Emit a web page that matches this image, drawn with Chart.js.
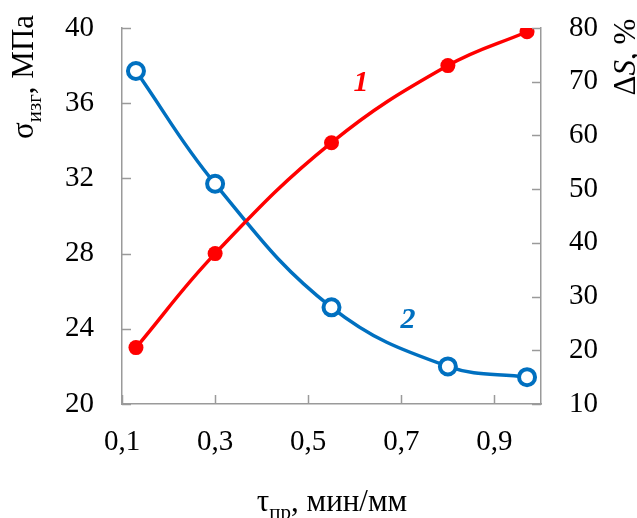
<!DOCTYPE html>
<html><head><meta charset="utf-8">
<script src="https://cdn.jsdelivr.net/npm/chart.js@4"></script>
<style>html,body{margin:0;padding:0;background:#fff}#wrap{width:637px;height:518px}</style>
</head><body><div id="wrap"><canvas id="c" width="637" height="518"></canvas></div>
<script>
const xValues = [0.13, 0.30, 0.55, 0.80, 0.97];
const sigmaValues = [23.0, 28.0, 33.9, 38.0, 39.8];
const deltaSValues = [72, 51, 28, 17, 15];
const xTicks = [0.1, 0.3, 0.5, 0.7, 0.9];
const yLeftTicks = [20, 24, 28, 32, 36, 40];
const yRightTicks = [10, 20, 30, 40, 50, 60, 70, 80];

const SERIF = '"Liberation Serif", "Times New Roman", serif';
const AXIS = '#9a9a9a';
const RED = '#ff0000', BLUE = '#0070c0';
const fmt = v => String(v).replace('.', ',');

function richText(ctx, parts, x, y, align) {
  let w = 0;
  parts.forEach(p => { ctx.font = p.font; w += ctx.measureText(p.t).width; });
  let cx = align === 'center' ? x - w / 2 : x;
  parts.forEach(p => {
    ctx.font = p.font;
    ctx.fillText(p.t, cx, y + (p.dy || 0));
    cx += ctx.measureText(p.t).width;
  });
}

const decor = {
  id: 'decor',
  afterDraw(chart) {
    const ctx = chart.ctx;
    const sx = chart.scales.x, sl = chart.scales.y, sr = chart.scales.y2;
    const a = chart.chartArea;
    ctx.save();
    ctx.strokeStyle = AXIS; ctx.lineWidth = 1.5;
    ctx.beginPath();
    xTicks.forEach(v => { const p = Math.round(sx.getPixelForValue(v)) + 0.5; ctx.moveTo(p, a.bottom); ctx.lineTo(p, a.bottom - 9); });
    yLeftTicks.forEach(v => { const p = Math.round(sl.getPixelForValue(v)) + 0.5; ctx.moveTo(a.left, p); ctx.lineTo(a.left + 9, p); });
    yRightTicks.forEach(v => { const p = Math.round(sr.getPixelForValue(v)) + 0.5; ctx.moveTo(a.right, p); ctx.lineTo(a.right - 9, p); });
    ctx.stroke();

    ctx.fillStyle = '#000';
    ctx.textBaseline = 'alphabetic';
    richText(ctx, [
      {t: 'τ', font: '31px ' + SERIF},
      {t: 'пр', font: '21px ' + SERIF, dy: 8},
      {t: ', мин/мм', font: '31px ' + SERIF}
    ], 332, 511, 'center');
    ctx.save();
    ctx.translate(33, 77); ctx.rotate(-Math.PI / 2);
    richText(ctx, [
      {t: 'σ', font: '31px ' + SERIF},
      {t: 'изг', font: '21px ' + SERIF, dy: 8},
      {t: ', МПа', font: '31px ' + SERIF}
    ], 0, 0, 'center');
    ctx.restore();
    ctx.save();
    ctx.translate(635, 57); ctx.rotate(-Math.PI / 2);
    richText(ctx, [
      {t: 'Δ', font: '31px ' + SERIF},
      {t: 'S', font: 'italic 31px ' + SERIF},
      {t: ', %', font: '31px ' + SERIF}
    ], 0, 0, 'center');
    ctx.restore();
    ctx.textAlign = 'center'; ctx.textBaseline = 'middle';
    ctx.font = 'italic bold 30px ' + SERIF;
    ctx.fillStyle = RED; ctx.fillText('1', 361, 83);
    ctx.fillStyle = BLUE; ctx.fillText('2', 408, 320);
    ctx.restore();
  }
};

function build() {
new Chart(document.getElementById('c'), {
  type: 'line',
  data: {
    datasets: [
      {
        data: xValues.map((x, i) => ({x, y: sigmaValues[i]})),
        yAxisID: 'y', borderColor: RED, backgroundColor: RED,
        borderWidth: 3.5, pointRadius: 7.5, pointBorderWidth: 0, pointBackgroundColor: RED,
        tension: 0.4, fill: false
      },
      {
        data: xValues.map((x, i) => ({x, y: deltaSValues[i]})),
        yAxisID: 'y2', borderColor: BLUE, backgroundColor: '#fff',
        borderWidth: 3.5, pointRadius: 8, pointBorderWidth: 4, pointBackgroundColor: '#fff', pointBorderColor: BLUE,
        tension: 0.4, fill: false
      }
    ]
  },
  options: {
    responsive: false, animation: false, devicePixelRatio: 1,
    layout: {padding: {top: 28, left: 0, right: 0, bottom: 0}},
    plugins: {legend: {display: false}, tooltip: {enabled: false}},
    scales: {
      x: {
        type: 'linear', min: 0.1, max: 1.0,
        afterBuildTicks: s => { s.ticks = xTicks.map(v => ({value: v})); },
        afterFit: s => { s.height = 114; s.paddingLeft = 0; s.paddingRight = 0; },
        grid: {display: false, drawTicks: false},
        border: {display: true, color: AXIS, width: 1.5},
        ticks: {font: {family: SERIF, size: 29}, color: '#000', padding: 21, callback: v => fmt(v), maxRotation: 0}
      },
      y: {
        type: 'linear', position: 'left', min: 20, max: 40,
        afterBuildTicks: s => { s.ticks = yLeftTicks.map(v => ({value: v})); },
        afterFit: s => { s.width = 122; s.paddingTop = 0; s.paddingBottom = 0; },
        grid: {display: false, drawTicks: false},
        border: {display: true, color: AXIS, width: 1.5},
        ticks: {font: {family: SERIF, size: 29}, color: '#000', padding: 28, callback: v => fmt(v)}
      },
      y2: {
        type: 'linear', position: 'right', min: 10, max: 80,
        afterBuildTicks: s => { s.ticks = yRightTicks.map(v => ({value: v})); },
        afterFit: s => { s.width = 96; s.paddingTop = 0; s.paddingBottom = 0; },
        grid: {display: false, drawTicks: false},
        border: {display: true, color: AXIS, width: 1.5},
        ticks: {font: {family: SERIF, size: 29}, color: '#000', padding: 28, callback: v => fmt(v)}
      }
    }
  },
  plugins: [decor]
});
}
if (document.fonts && document.fonts.load) {
  Promise.all([document.fonts.load('29px "Liberation Serif"'), document.fonts.load('italic bold 30px "Liberation Serif"'), document.fonts.load('italic 31px "Liberation Serif"')]).then(build, build);
} else build();
</script>
</body></html>
